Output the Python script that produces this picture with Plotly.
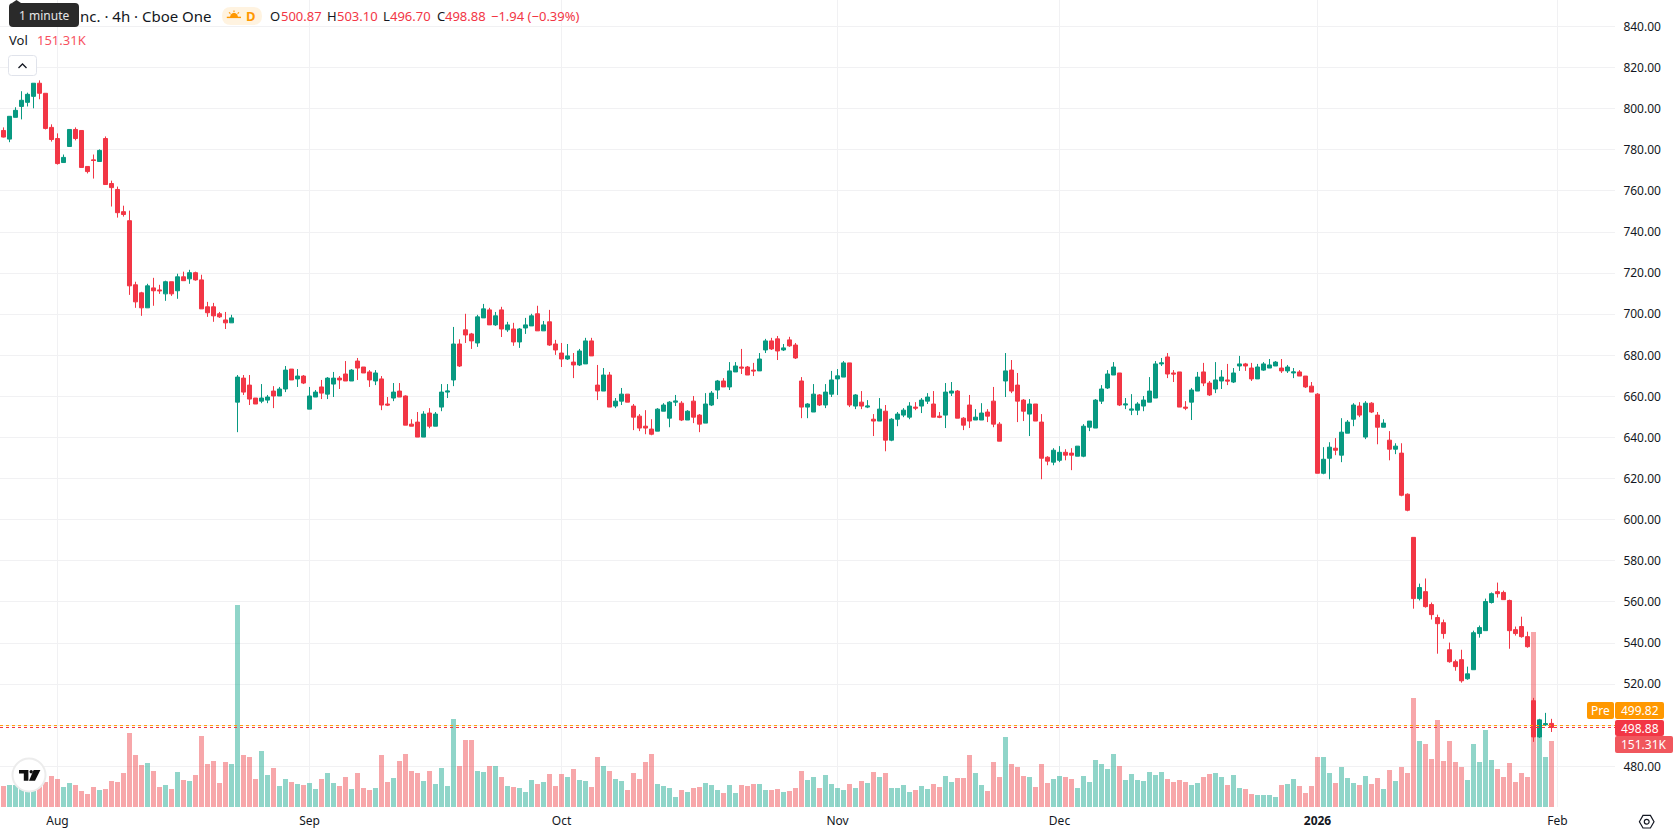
import plotly.graph_objects as go

WIDTH, HEIGHT = 1678, 835
PANE_RIGHT, PANE_BOTTOM = 1615, 807
BAR_PITCH = 6

OPEN = [
    789.4, 785.2, 795.8, 801.1, 803.1, 806.0, 812.4, 807.5, 790.9, 785.5,
    773.8, 781.6, 789.9, 789.4, 771.9, 775.1, 774.3, 785.5, 763.6, 760.7,
    749.9, 745.5, 714.3, 710.4, 703.1, 712.8, 711.8, 709.9, 715.8, 711.4,
    718.2, 717.2, 720.2, 716.7, 703.6, 703.6, 700.2, 697.2, 695.8, 657.2,
    668.9, 665.5, 659.2, 657.7, 658.2, 662.6, 660.2, 663.6, 673.3, 668.5,
    669.9, 653.8, 659.7, 664.6, 661.1, 666.0, 668.9, 670.9, 667.5, 677.2,
    674.3, 671.9, 667.5, 668.5, 656.3, 659.2, 662.6, 660.2, 646.5, 647.5,
    640.2, 651.9, 645.5, 654.8, 662.1, 668.0, 685.5, 692.4, 690.4, 686.0,
    698.2, 702.1, 694.8, 702.1, 692.4, 692.8, 686.5, 693.3, 694.3, 700.2,
    691.9, 696.3, 685.5, 681.1, 678.2, 676.7, 675.3, 675.8, 687.0, 665.5,
    662.6, 670.4, 655.3, 657.7, 661.1, 655.3, 650.4, 645.5, 644.1, 643.1,
    652.8, 649.4, 657.2, 656.7, 648.5, 657.7, 650.9, 647.0, 655.8, 663.1,
    667.5, 664.6, 671.9, 674.3, 674.3, 672.8, 672.4, 682.6, 687.0, 688.0,
    682.6, 687.5, 685.0, 667.5, 654.8, 652.4, 660.7, 655.8, 661.1, 668.5,
    669.4, 676.3, 655.3, 657.2, 654.8, 648.9, 648.0, 652.8, 638.7, 648.9,
    650.9, 649.9, 654.8, 655.3, 657.7, 656.3, 650.4, 650.9, 661.6, 662.6,
    649.4, 655.8, 648.5, 648.5, 652.4, 657.7, 646.5, 667.5, 672.8, 665.5,
    658.2, 651.4, 656.3, 647.5, 630.4, 628.0, 628.9, 632.8, 632.4, 630.9,
    630.9, 645.0, 644.6, 657.7, 664.1, 670.4, 671.4, 655.8, 653.3, 653.3,
    655.3, 657.2, 659.2, 675.8, 679.2, 671.4, 671.9, 654.8, 657.2, 662.6,
    671.9, 666.5, 663.6, 667.5, 668.0, 667.0, 674.8, 675.8, 673.8, 668.5,
    672.8, 673.8, 674.8, 673.8, 672.4, 671.4, 671.9, 669.9, 665.0, 661.1,
    622.6, 629.9, 634.8, 631.4, 642.1, 648.9, 655.3, 640.2, 656.7, 650.9,
    645.0, 638.7, 634.3, 632.4, 612.4, 591.4, 561.6, 565.0, 558.7, 552.4,
    549.9, 536.7, 530.9, 531.9, 522.6, 527.0, 544.6, 546.0, 559.7, 565.0,
    564.6, 560.7, 546.5, 548.0, 543.1, 511.9, 494.3, 500.2, 500.87,
]
HIGH = [
    790.9, 796.3, 800.7, 808.5, 807.8, 812.4, 813.8, 807.5, 792.4, 788.0,
    777.7, 789.9, 790.9, 789.4, 771.9, 777.7, 780.2, 786.5, 765.0, 762.1,
    752.8, 750.4, 715.8, 710.9, 714.8, 717.7, 714.3, 716.3, 715.8, 719.7,
    720.7, 721.6, 720.7, 719.2, 706.0, 705.5, 701.1, 701.1, 699.7, 670.4,
    670.4, 670.4, 659.2, 666.0, 660.7, 665.0, 664.6, 674.8, 673.3, 673.3,
    670.4, 664.6, 663.1, 668.0, 669.4, 671.9, 669.9, 677.2, 673.3, 678.7,
    674.3, 672.8, 672.8, 669.9, 659.7, 666.5, 666.5, 660.5, 648.9, 652.4,
    652.8, 654.3, 652.4, 666.0, 666.0, 693.8, 687.8, 700.2, 690.9, 699.7,
    705.0, 703.1, 701.1, 703.6, 696.3, 695.8, 693.3, 698.2, 700.2, 704.1,
    696.7, 702.1, 687.5, 686.0, 685.5, 681.1, 683.1, 688.5, 688.5, 675.3,
    673.8, 671.9, 659.2, 664.1, 661.1, 656.3, 651.4, 653.3, 648.9, 654.3,
    656.7, 657.7, 660.7, 657.7, 653.3, 660.2, 651.4, 661.6, 662.6, 668.0,
    668.9, 676.7, 676.7, 683.1, 674.8, 676.3, 681.1, 688.0, 688.5, 689.4,
    685.5, 689.0, 686.0, 669.4, 656.7, 666.0, 661.1, 666.0, 672.4, 673.3,
    677.2, 676.3, 661.1, 662.6, 658.2, 651.4, 659.2, 655.8, 649.4, 652.4,
    654.3, 657.2, 657.2, 659.2, 661.6, 662.6, 652.4, 666.5, 667.0, 663.1,
    649.9, 660.7, 653.8, 656.7, 653.8, 664.6, 647.5, 681.1, 677.7, 671.4,
    658.7, 658.7, 656.3, 651.4, 630.9, 634.8, 635.8, 634.3, 634.8, 635.8,
    646.5, 648.0, 658.7, 665.5, 672.8, 676.7, 671.4, 659.2, 661.1, 657.2,
    660.2, 669.4, 677.2, 678.7, 681.1, 672.8, 671.9, 657.7, 664.1, 671.9,
    676.3, 667.5, 676.7, 672.8, 675.8, 673.8, 679.7, 676.3, 676.3, 675.8,
    676.7, 678.2, 677.2, 678.2, 675.3, 673.8, 672.8, 669.9, 667.0, 661.6,
    635.3, 637.7, 639.7, 649.4, 648.5, 656.7, 657.2, 657.7, 657.2, 652.4,
    648.9, 643.1, 637.2, 637.2, 612.8, 591.4, 568.9, 571.4, 559.7, 553.8,
    551.4, 540.2, 531.9, 536.7, 528.5, 546.0, 548.5, 561.6, 564.6, 569.4,
    565.5, 561.1, 548.0, 552.8, 545.5, 513.3, 503.1, 506.0, 503.10,
]
LOW = [
    786.0, 783.7, 795.8, 794.8, 801.1, 800.2, 804.6, 789.9, 784.0, 772.8,
    773.8, 781.6, 784.6, 771.4, 768.5, 766.0, 774.3, 763.1, 752.4, 747.0,
    747.5, 709.4, 703.1, 699.2, 703.1, 704.1, 709.9, 706.5, 708.9, 707.5,
    716.3, 714.8, 716.3, 702.6, 698.7, 696.3, 698.2, 692.8, 695.8, 642.6,
    660.7, 655.8, 656.3, 656.7, 656.7, 654.3, 660.2, 662.1, 668.0, 664.6,
    666.0, 653.8, 659.7, 658.7, 658.7, 659.7, 663.6, 667.5, 667.5, 668.0,
    671.4, 664.6, 665.5, 653.3, 655.3, 657.7, 659.7, 646.0, 645.5, 640.2,
    640.2, 644.5, 645.5, 652.8, 659.2, 665.0, 674.3, 686.0, 683.1, 684.1,
    698.2, 694.8, 694.3, 688.9, 691.4, 684.6, 683.6, 690.4, 694.3, 691.9,
    691.9, 684.6, 680.2, 674.3, 677.7, 668.9, 674.8, 675.8, 679.7, 658.2,
    662.6, 654.8, 654.3, 655.8, 657.2, 643.6, 643.1, 641.6, 641.1, 643.1,
    652.8, 645.0, 655.3, 648.0, 648.5, 647.0, 642.6, 647.0, 655.3, 658.7,
    664.6, 663.1, 671.9, 670.9, 670.4, 669.9, 672.4, 681.1, 682.6, 677.7,
    682.1, 684.1, 678.2, 649.4, 649.4, 652.4, 655.3, 654.3, 659.7, 660.7,
    669.4, 654.8, 653.8, 653.8, 654.3, 640.7, 648.0, 633.3, 638.2, 645.5,
    649.9, 648.9, 653.3, 651.9, 656.3, 649.9, 649.4, 644.6, 660.2, 649.4,
    643.6, 644.6, 648.5, 648.5, 647.5, 645.0, 638.2, 659.7, 661.6, 647.5,
    648.0, 640.7, 648.0, 619.7, 626.5, 626.5, 628.0, 628.9, 624.1, 630.9,
    630.4, 643.1, 644.6, 656.3, 663.6, 670.4, 655.3, 653.8, 650.9, 650.9,
    652.8, 657.2, 659.2, 674.8, 668.9, 667.0, 654.8, 653.3, 648.5, 662.6,
    665.0, 660.2, 661.6, 663.6, 665.5, 666.5, 672.4, 672.4, 667.5, 668.5,
    672.4, 673.8, 674.8, 671.4, 671.4, 668.9, 669.9, 664.1, 662.1, 622.6,
    622.1, 619.7, 631.4, 628.0, 642.1, 645.5, 649.9, 639.2, 651.9, 636.7,
    645.0, 628.9, 631.9, 611.4, 604.1, 556.7, 560.7, 557.2, 551.4, 534.8,
    542.1, 530.4, 526.5, 520.7, 522.1, 527.0, 542.6, 546.0, 559.2, 562.1,
    561.1, 537.2, 543.6, 542.6, 537.7, 491.9, 493.8, 499.7, 496.70,
]
CLOSE = [
    786.2, 796.3, 799.2, 804.1, 807.0, 812.4, 807.5, 790.4, 785.0, 773.3,
    776.3, 789.9, 785.5, 771.4, 769.4, 774.8, 779.7, 763.1, 761.6, 749.4,
    748.5, 713.8, 706.0, 703.1, 713.8, 711.4, 711.4, 715.8, 709.9, 718.2,
    716.3, 720.2, 716.7, 702.6, 700.7, 699.2, 698.7, 695.8, 698.2, 669.4,
    662.1, 658.7, 656.3, 659.2, 659.7, 660.2, 663.6, 672.8, 668.0, 669.9,
    666.5, 660.2, 662.1, 661.6, 668.9, 668.9, 668.0, 667.5, 672.8, 673.8,
    671.4, 668.0, 671.4, 655.8, 655.8, 662.1, 659.7, 646.0, 645.5, 640.2,
    651.4, 645.5, 651.4, 662.1, 662.6, 685.5, 674.8, 689.9, 687.0, 698.7,
    702.6, 694.8, 699.2, 692.8, 694.8, 686.5, 692.8, 694.8, 699.2, 691.9,
    694.8, 685.0, 682.6, 678.2, 679.7, 675.3, 682.1, 687.0, 679.7, 662.6,
    670.4, 654.8, 657.7, 661.1, 657.2, 649.9, 644.6, 644.6, 641.6, 653.8,
    655.8, 657.2, 657.7, 648.5, 652.8, 649.9, 646.5, 656.3, 661.6, 667.5,
    664.6, 672.4, 674.8, 673.8, 670.4, 672.4, 678.2, 687.0, 683.1, 682.1,
    683.6, 684.6, 678.7, 654.8, 656.3, 661.1, 655.8, 662.1, 668.0, 670.0,
    676.3, 655.8, 660.7, 655.3, 655.3, 648.0, 653.8, 638.7, 648.9, 651.4,
    653.3, 655.3, 654.3, 658.2, 659.7, 649.9, 649.9, 662.1, 662.6, 649.4,
    646.0, 648.0, 649.9, 651.9, 650.4, 646.5, 638.2, 672.4, 662.6, 657.7,
    652.8, 656.3, 648.0, 629.9, 628.5, 633.8, 632.8, 631.4, 631.4, 635.8,
    645.5, 648.0, 658.2, 663.6, 670.9, 674.3, 655.8, 656.3, 653.8, 656.3,
    658.2, 662.6, 675.8, 676.3, 670.9, 670.9, 654.8, 654.3, 663.1, 669.4,
    666.5, 660.7, 668.0, 669.4, 667.5, 671.4, 675.8, 674.8, 668.5, 674.3,
    675.8, 675.3, 676.7, 672.4, 674.3, 671.9, 669.9, 664.6, 662.1, 622.6,
    629.4, 635.3, 633.8, 642.6, 647.5, 655.8, 650.9, 656.7, 652.4, 645.0,
    647.0, 634.3, 635.8, 611.9, 604.6, 561.6, 567.0, 557.7, 553.8, 549.4,
    544.6, 530.9, 528.5, 521.6, 525.0, 545.0, 547.5, 560.2, 564.0, 564.0,
    561.1, 546.0, 544.6, 543.1, 538.2, 494.3, 502.6, 500.7, 498.88,
]
VOLUME_K = [
    48.2, 50.4, 50.4, 52.7, 36.7, 45.9, 57.3, 57.3, 71.1, 64.2,
    45.9, 55.0, 50.4, 36.7, 29.8, 45.9, 39.0, 41.3, 59.6, 57.3,
    78.0, 169.7, 119.2, 96.3, 100.9, 82.5, 45.9, 50.4, 41.3, 80.3,
    61.9, 59.6, 73.4, 162.8, 98.6, 105.5, 55.0, 103.2, 98.6, 463.2,
    119.2, 114.7, 64.2, 128.4, 73.4, 89.4, 48.2, 64.2, 57.3, 52.7,
    50.4, 55.0, 41.3, 64.2, 78.0, 55.0, 48.2, 68.8, 41.3, 78.0,
    43.6, 39.0, 43.6, 119.2, 57.3, 66.5, 105.5, 121.5, 82.5, 78.0,
    59.6, 82.5, 52.7, 89.4, 48.2, 201.8, 94.0, 153.6, 153.6, 82.5,
    80.3, 94.0, 94.0, 68.8, 48.2, 45.9, 43.6, 34.4, 61.9, 52.7,
    57.3, 75.7, 48.2, 75.7, 68.8, 87.1, 61.9, 59.6, 45.9, 114.7,
    94.0, 82.5, 64.2, 59.6, 39.0, 78.0, 64.2, 103.2, 121.5, 52.7,
    48.2, 43.6, 22.9, 39.0, 34.4, 43.6, 45.9, 55.0, 50.4, 39.0,
    32.1, 50.4, 32.1, 50.4, 48.2, 52.7, 52.7, 39.0, 39.0, 41.3,
    34.4, 36.7, 43.6, 82.5, 61.9, 68.8, 43.6, 73.4, 52.7, 43.6,
    39.0, 52.7, 43.6, 59.6, 55.0, 80.3, 68.8, 78.0, 43.6, 43.6,
    50.4, 34.4, 39.0, 48.2, 41.3, 52.7, 45.9, 71.1, 57.3, 66.5,
    66.5, 119.2, 78.0, 50.4, 36.7, 103.2, 68.8, 160.5, 98.6, 91.7,
    71.1, 68.8, 45.9, 98.6, 55.0, 64.2, 71.1, 68.8, 64.2, 43.6,
    71.1, 57.3, 107.8, 98.6, 87.1, 121.5, 94.0, 61.9, 75.7, 61.9,
    59.6, 80.3, 73.4, 80.3, 64.2, 57.3, 61.9, 57.3, 50.4, 55.0,
    68.8, 75.7, 78.0, 68.8, 50.4, 73.4, 43.6, 41.3, 29.8, 27.5,
    27.5, 27.5, 22.9, 50.4, 52.7, 64.2, 48.2, 32.1, 48.2, 114.7,
    114.7, 78.0, 55.0, 91.7, 66.5, 55.0, 50.4, 71.1, 52.7, 66.5,
    41.3, 84.8, 59.6, 91.7, 78.0, 249.9, 151.3, 144.5, 110.1, 199.5,
    105.5, 151.3, 103.2, 91.7, 61.9, 144.5, 103.2, 176.6, 107.8, 87.1,
    68.8, 100.9, 57.3, 78.0, 68.8, 401.3, 165.1, 114.7, 151.31,
]

MONTH_BARS = [9, 51, 93, 139, 176, 219, 259]
MONTH_LABELS = ["Aug", "Sep", "Oct", "Nov", "Dec", "<b>2026</b>", "Feb"]
PRICE_TICKS = [840, 820, 800, 780, 760, 740, 720, 700, 680, 660, 640, 620, 600, 580, 560, 540, 520, 500, 480]
PRE_MARKET_PRICE = 499.82
LAST_PRICE = CLOSE[-1]

UP = "#089981"
DOWN = "#F23645"
UP_VOL = "rgba(34,171,148,0.5)"
DOWN_VOL = "rgba(240,80,85,0.5)"
GRID = "#F1F1F3"
INK = "#131722"
ORANGE = "#FF9800"
FONT = "Noto Sans"

bars = list(range(len(CLOSE)))
vol_colors = [UP_VOL if c >= o else DOWN_VOL for o, c in zip(OPEN, CLOSE)]


def fx(x):
    return x / WIDTH


def fy(y):
    return 1 - y / HEIGHT


def path_shape(points, fill=None, line=None, line_width=1, close=True):
    d = "M " + " L ".join(f"{fx(x):.6f},{fy(y):.6f}" for x, y in points) + (" Z" if close else "")
    return dict(type="path", xref="paper", yref="paper", path=d,
                fillcolor=fill or "rgba(0,0,0,0)",
                line=dict(color=line or "rgba(0,0,0,0)", width=line_width))


def rounded(x0, y0, x1, y1, r, fill=None, line=None, line_width=1):
    X0, X1, Y0, Y1 = fx(x0), fx(x1), fy(y0), fy(y1)
    rx, ry = r / WIDTH, r / HEIGHT
    d = (f"M {X0+rx},{Y0} L {X1-rx},{Y0} Q {X1},{Y0} {X1},{Y0-ry} "
         f"L {X1},{Y1+ry} Q {X1},{Y1} {X1-rx},{Y1} L {X0+rx},{Y1} "
         f"Q {X0},{Y1} {X0},{Y1+ry} L {X0},{Y0-ry} Q {X0},{Y0} {X0+rx},{Y0} Z")
    return dict(type="path", xref="paper", yref="paper", path=d,
                fillcolor=fill or "rgba(0,0,0,0)",
                line=dict(color=line or "rgba(0,0,0,0)", width=line_width))


def disc(cx, cy, r, fill=None, line=None, line_width=1):
    return dict(type="circle", xref="paper", yref="paper",
                x0=fx(cx - r), x1=fx(cx + r), y0=fy(cy + r), y1=fy(cy - r),
                fillcolor=fill or "rgba(0,0,0,0)",
                line=dict(color=line or "rgba(0,0,0,0)", width=line_width))


def label(x, y, text, color=INK, size=13, anchor="left"):
    return dict(xref="paper", yref="paper", x=fx(x), y=fy(y), text=text, showarrow=False,
                xanchor=anchor, yanchor="middle", borderpad=0, borderwidth=0,
                font=dict(family=FONT, size=size, color=color))


fig = go.Figure()

# Volume sits on the base axis so the candles paint over it.
fig.add_trace(go.Bar(x=bars, y=VOLUME_K, width=5 / BAR_PITCH, marker=dict(color=vol_colors, line_width=0),
                     yaxis="y", hoverinfo="skip", showlegend=False))

fig.add_trace(go.Candlestick(
    x=bars, open=OPEN, high=HIGH, low=LOW, close=CLOSE, yaxis="y2", whiskerwidth=0, showlegend=False,
    increasing=dict(line=dict(color=UP, width=1), fillcolor=UP),
    decreasing=dict(line=dict(color=DOWN, width=1), fillcolor=DOWN),
))

shapes = [
    # Last-price and pre-market guide lines
    dict(type="line", xref="paper", yref="y2", x0=0, x1=fx(PANE_RIGHT), y0=PRE_MARKET_PRICE, y1=PRE_MARKET_PRICE,
         line=dict(color=ORANGE, width=1, dash="dot")),
    dict(type="line", xref="paper", yref="y2", x0=0, x1=fx(PANE_RIGHT), y0=LAST_PRICE, y1=LAST_PRICE,
         line=dict(color=DOWN, width=1, dash="dot")),
    # Price tags on the scale
    rounded(1587, 702, 1614, 719, 2, fill=ORANGE),
    rounded(1615, 702, 1664, 719, 2, fill=ORANGE),
    rounded(1615, 720, 1664, 736, 2, fill=DOWN),
    rounded(1615, 736, 1673, 753, 2, fill="#F0575D"),
    # Tooltip
    rounded(9, 3, 79, 27, 4, fill="#2A2A2A"),
    path_shape([(12, 3), (16.5, 0), (21, 3)], fill="#2A2A2A"),
    # Session badge with its half-sun icon
    rounded(222, 7, 262, 25, 9, fill="#FFF3E0"),
    path_shape([(230, 17), (230.8, 14.6), (232.4, 13.2), (234, 12.8), (235.6, 13.2), (237.2, 14.6), (238, 17)], fill=ORANGE),
    path_shape([(226.8, 17.4), (241, 17.4)], line=ORANGE, line_width=1.4, close=False),
    path_shape([(234, 10.4), (234, 12)], line=ORANGE, line_width=1.2, close=False),
    path_shape([(229, 12.4), (230.4, 13.6)], line=ORANGE, line_width=1.2, close=False),
    path_shape([(239, 12.4), (237.6, 13.6)], line=ORANGE, line_width=1.2, close=False),
    # Collapse button
    rounded(8.5, 55.5, 36.5, 75.5, 3, fill="#FFFFFF", line="#E0E3EB"),
    path_shape([(18.5, 68), (22.5, 64), (26.5, 68)], line=INK, line_width=1.3, close=False),
    # Brand badge
    disc(29, 775, 16.5, fill="#FFFFFF", line="#ECECEC", line_width=2),
    path_shape([(19, 770), (28.4, 770), (28.4, 780.7), (23.8, 780.7), (23.8, 773.4), (19, 773.4)], fill="#0F0F0F"),
    disc(31.2, 771.7, 1.7, fill="#0F0F0F"),
    path_shape([(33.6, 770), (40.4, 770), (35, 780.7), (29, 780.7)], fill="#0F0F0F"),
    # Scale settings icon
    path_shape([(1639.4, 821.7), (1643, 815.4), (1650.4, 815.4), (1654, 821.7), (1650.4, 828), (1643, 828)],
               line=INK, line_width=1.2),
    disc(1646.7, 821.7, 2.4, line=INK, line_width=1.2),
]

annotations = [
    label(44, 15, "1 minute", color="#E6E6E6", size=12, anchor="center"),
    label(80, 16, "nc. · 4h · Cboe One", size=15),
    label(251, 16, "<b>D</b>", color=ORANGE, size=13, anchor="center"),
    label(270, 16, "O"), label(281, 16, "500.87", color=DOWN),
    label(327, 16, "H"), label(337, 16, "503.10", color=DOWN),
    label(383, 16, "L"), label(390, 16, "496.70", color=DOWN),
    label(437, 16, "C"), label(445, 16, "498.88", color=DOWN),
    label(491, 16, "−1.94 (−0.39%)", color=DOWN),
    label(9, 40, "Vol"), label(37, 40, "151.31K", color="#F7525F"),
    label(1600.5, 710.5, "Pre", color="#FFFFFF", size=12, anchor="center"),
    label(1640, 710.5, "499.82", color="#FFFFFF", size=12, anchor="center"),
    label(1640, 728, "498.88", color="#FFFFFF", size=12, anchor="center"),
    label(1644, 744.5, "151.31K", color="#FFFFFF", size=12, anchor="center"),
]

price_top = 840 + 26.5 / 2.055
price_bottom = 840 - (PANE_BOTTOM - 26.5) / 2.055

fig.update_layout(
    width=WIDTH, height=HEIGHT, autosize=False,
    margin=dict(l=0, r=0, t=0, b=0, pad=0),
    paper_bgcolor="#FFFFFF", plot_bgcolor="#FFFFFF",
    font=dict(family=FONT, size=12, color=INK),
    boxgap=0.33, boxgroupgap=0, bargap=0,
    shapes=shapes, annotations=annotations, showlegend=False,
    xaxis=dict(
        domain=[0, fx(PANE_RIGHT)], range=[-3.5 / BAR_PITCH, (PANE_RIGHT - 3.5) / BAR_PITCH],
        tickmode="array", tickvals=MONTH_BARS, ticktext=MONTH_LABELS, automargin=False,
        showgrid=True, gridcolor=GRID, gridwidth=1, zeroline=False, showline=False,
        ticks="outside", ticklen=3, tickcolor="rgba(0,0,0,0)",
        tickfont=dict(family=FONT, size=12, color=INK),
        rangeslider=dict(visible=False),
    ),
    yaxis=dict(
        domain=[1 - PANE_BOTTOM / HEIGHT, 1], range=[0, PANE_BOTTOM * 2.293], automargin=False,
        showgrid=False, showticklabels=False, zeroline=False, showline=False, ticks="",
    ),
    yaxis2=dict(
        domain=[1 - PANE_BOTTOM / HEIGHT, 1], range=[price_bottom, price_top], automargin=False,
        overlaying="y", side="right", anchor="x",
        tickmode="array", tickvals=PRICE_TICKS,
        ticktext=[f"{t:.2f}" if t != 500 else "" for t in PRICE_TICKS],
        showgrid=True, gridcolor=GRID, gridwidth=1, zeroline=False, showline=False,
        ticks="outside", ticklen=5, tickcolor="rgba(0,0,0,0)",
        tickfont=dict(family=FONT, size=12, color=INK),
    ),
)

fig.write_html("out.html", config=dict(displayModeBar=False))
